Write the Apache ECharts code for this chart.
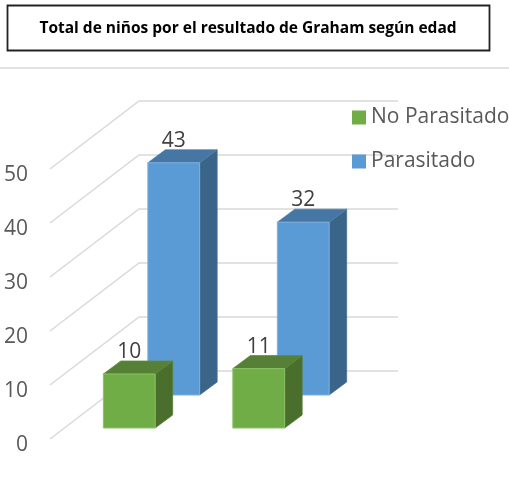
<!DOCTYPE html>
<html>
<head>
<meta charset="utf-8">
<style>html,body{margin:0;padding:0;background:#fff}#c{width:509px;height:489px}</style>
<script src="https://cdn.jsdelivr.net/npm/echarts@6/dist/echarts.min.js"></script>
</head>
<body>
<div id="c"></div>
<script>
var titleText = 'Total de niños por el resultado de Graham según edad';
var categories = ['Grupo 1', 'Grupo 2'];
var noParasitado = [10, 11];
var parasitado = [43, 32];
var yTicks = [0, 10, 20, 30, 40, 50];

var FONT = '"Open Sans", "Noto Sans", sans-serif';
var WALL = [89, -68];

function bars(shift, colors) {
  return function (params, api) {
    var i = api.value(0), v = api.value(1);
    var top = api.coord([i, v]), base = api.coord([i, 0]);
    var w = api.size([1, 0])[0] * 0.4;
    var x0 = top[0] + shift[0] - w / 2, x1 = x0 + w;
    var yT = top[1] + shift[1], yB = base[1] + shift[1];
    var dx = 17.5, dy = -13;
    return {
      type: 'group',
      children: [
        { type: 'polygon', shape: { points: [[x1, yT], [x1 + dx, yT + dy], [x1 + dx, yB + dy], [x1, yB]] },
          style: { fill: colors.side, stroke: colors.sideEdge, lineWidth: 0.8 } },
        { type: 'polygon', shape: { points: [[x0, yT], [x0 + dx, yT + dy], [x1 + dx, yT + dy], [x1, yT]] },
          style: { fill: colors.top, stroke: colors.topEdge, lineWidth: 0.8 } },
        { type: 'rect', shape: { x: x0, y: yT, width: w, height: yB - yT },
          style: { fill: colors.front, stroke: colors.edge, lineWidth: 1 } },
        { type: 'text', x: x0 + w / 2, y: yT - 22,
          style: { text: String(v), fill: '#404040', font: '21px ' + FONT, align: 'center', verticalAlign: 'middle' } }
      ]
    };
  };
}

function walls(params, api) {
  var y = api.coord([0, api.value(0)])[1];
  var cs = params.coordSys;
  return {
    type: 'polyline',
    shape: { points: [[cs.x, y], [cs.x + WALL[0], y + WALL[1]], [cs.x + cs.width + WALL[0], y + WALL[1]]] },
    style: { fill: 'none', stroke: '#d9d9d9', lineWidth: 1.5 }
  };
}

var chart = echarts.init(document.getElementById('c'), null, { renderer: 'canvas' });
chart.setOption({
  animation: false,
  backgroundColor: '#fff',
  title: {
    text: titleText, left: 248, top: 20, textAlign: 'center',
    padding: 0,
    textStyle: { fontFamily: '"Open Sans", Lato, sans-serif', fontWeight: 'bold', fontSize: 15.5, color: '#000', lineHeight: 17 }
  },
  graphic: [
    { type: 'rect', shape: { x: 7.5, y: 5.5, width: 482, height: 45 }, style: { fill: 'none', stroke: '#222', lineWidth: 1.8 } },
    { type: 'line', shape: { x1: 0, y1: 68, x2: 509, y2: 68 }, style: { stroke: '#d9d9d9', lineWidth: 1.5 } }
  ],
  legend: {
    data: ['No Parasitado', 'Parasitado'],
    orient: 'vertical', left: 352, top: 107, padding: 0, itemWidth: 14, itemHeight: 14, itemGap: 23,
    icon: 'rect',
    textStyle: { fontFamily: FONT, fontSize: 21, color: '#595959', padding: [4, 0, 0, 0] }
  },
  grid: { left: 50, top: 169, width: 259, height: 270 },
  xAxis: { type: 'category', data: categories, axisLine: { show: false }, axisTick: { show: false }, axisLabel: { show: false }, splitLine: { show: false } },
  yAxis: {
    type: 'value', min: 0, max: 50, interval: 10,
    axisLine: { show: false }, axisTick: { show: false }, splitLine: { show: false },
    axisLabel: { margin: 22, fontFamily: FONT, fontSize: 21, color: '#595959', verticalAlign: 'top', lineHeight: 12 }
  },
  series: [
    { type: 'custom', name: 'walls', z: 1, silent: true, data: yTicks.map(function (t) { return [t]; }),
      encode: { y: 0 }, renderItem: walls },
    { type: 'custom', name: 'No Parasitado', z: 4, itemStyle: { color: '#70AD47' },
      data: noParasitado.map(function (v, i) { return [i, v]; }), encode: { x: 0, y: 1 },
      renderItem: bars([14.5, -11], { front: '#70AD47', top: '#568035', side: '#4A6E2B', edge: '#8CC168', topEdge: '#5F8A3D', sideEdge: '#557C34' }) },
    { type: 'custom', name: 'Parasitado', z: 3, itemStyle: { color: '#5B9BD5' },
      data: parasitado.map(function (v, i) { return [i, v]; }), encode: { x: 0, y: 1 },
      renderItem: bars([59, -44], { front: '#5B9BD5', top: '#4676A3', side: '#3A6488', edge: '#7DB0DF', topEdge: '#4F80AE', sideEdge: '#446F95' }) }
  ]
});
</script>
</body>
</html>
